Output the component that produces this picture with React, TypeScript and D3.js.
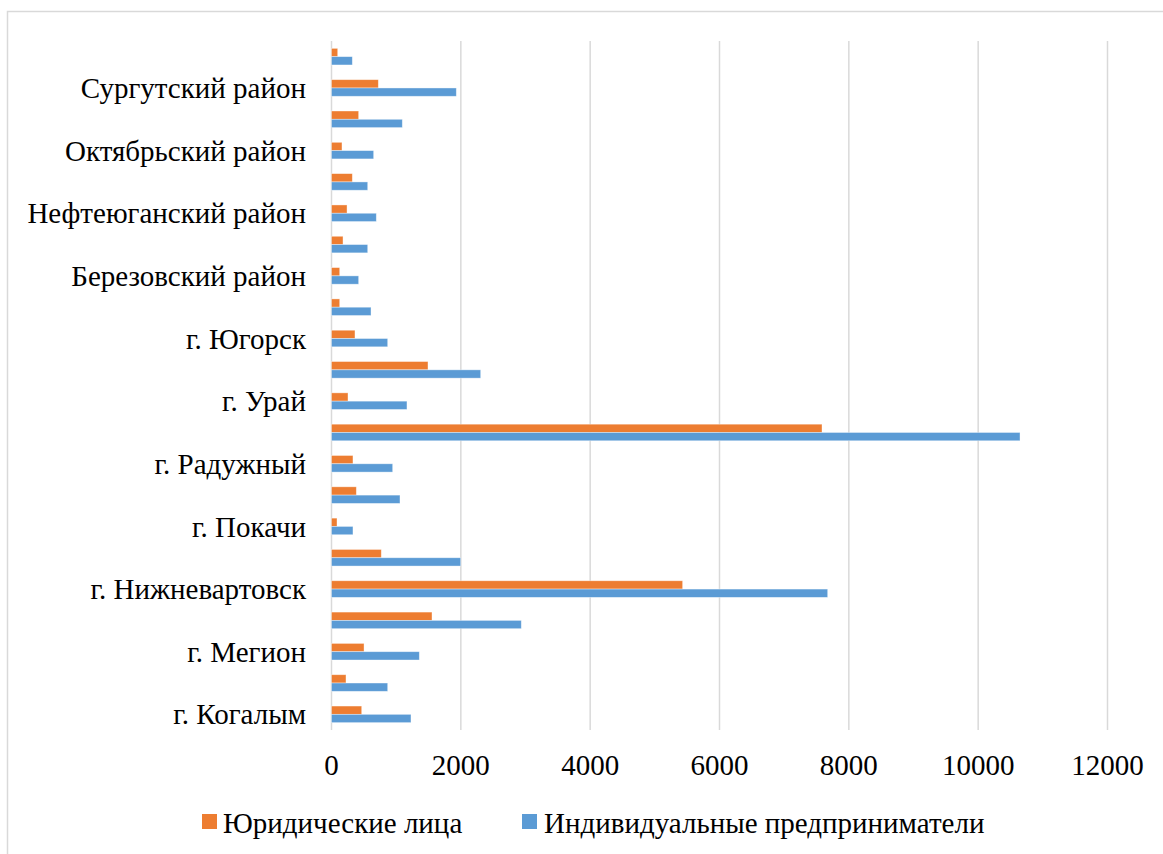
import * as d3 from 'd3'

const categories = [
  'г. Когалым',
  'г. Лангепас',
  'г. Мегион',
  'г. Нефтеюганск',
  'г. Нижневартовск',
  'г. Нягань',
  'г. Покачи',
  'г. Пыть-Ях',
  'г. Радужный',
  'г. Сургут',
  'г. Урай',
  'г. Ханты-Мансийск',
  'г. Югорск',
  'Белоярский район',
  'Березовский район',
  'Кондинский район',
  'Нефтеюганский район',
  'Нижневартовский район',
  'Октябрьский район',
  'Советский район',
  'Сургутский район',
  'Ханты-Мансийский район',
]

const legalEntities = [
  467, 224, 503, 1554, 5430, 770, 85, 384, 332, 7585, 255, 1492, 363, 127, 127, 178, 240, 322, 162,
  420, 724, 96,
]

const entrepreneurs = [
  1229, 869, 1358, 2935, 7673, 1998, 332, 1059, 946, 10647, 1167, 2307, 869, 611, 420, 560, 693,
  560, 652, 1095, 1930, 322,
]

const seriesNames = ['Юридические лица', 'Индивидуальные предприниматели']
const xTicks = [0, 2000, 4000, 6000, 8000, 10000, 12000]

const colors = ['#ED7D31', '#5B9BD5']
const textStyle = {
  fontFamily: "'Times New Roman', Times, Tinos, 'Liberation Serif', 'DejaVu Serif', 'Noto Serif', serif",
  fontSize: '29px',
}

const App = () => {
  const width = 1163
  const height = 854
  const left = 331.5
  const right = 1107.5
  const top = 41
  const bottom = 730

  const x = d3.scaleLinear().domain([0, 12000]).range([left, right])
  const y = d3.scaleBand<string>().domain(categories).range([bottom, top])
  const sub = d3
    .scaleBand<string>()
    .domain(['ul', 'ip'])
    .range([0, y.bandwidth()])
    .paddingInner(0)
    .paddingOuter(0.887)

  const rows = categories.map((c, i) => ({ c, ul: legalEntities[i], ip: entrepreneurs[i] }))

  return (
    <svg
      width={width}
      height={height}
      style={{ position: 'absolute', left: 0, top: 0, background: '#fff' }}
    >
      <rect x={7.5} y={11.5} width={1200} height={900} fill="#fff" stroke="#d9d9d9" strokeWidth={1.5} />

      {xTicks.map((t) => (
        <line key={t} x1={x(t)} x2={x(t)} y1={top} y2={bottom} stroke="#d9d9d9" strokeWidth={1.5} />
      ))}

      {rows.map((r) => (
        <g key={r.c}>
          <rect
            x={x(0)}
            y={(y(r.c) as number) + (sub('ul') as number)}
            width={x(r.ul) - x(0)}
            height={sub.bandwidth()}
            fill={colors[0]}
            stroke="#fff"
            strokeOpacity={0.5}
            strokeWidth={0.75}
          />
          <rect
            x={x(0)}
            y={(y(r.c) as number) + (sub('ip') as number)}
            width={x(r.ip) - x(0)}
            height={sub.bandwidth()}
            fill={colors[1]}
            stroke="#fff"
            strokeOpacity={0.5}
            strokeWidth={0.75}
          />
        </g>
      ))}

      {categories.map((c, i) =>
        i % 2 === 0 ? (
          <text
            key={c}
            x={306}
            y={(y(c) as number) + y.bandwidth() / 2}
            dy="0.35em"
            textAnchor="end"
            style={textStyle}
            fill="#000"
          >
            {c}
          </text>
        ) : null
      )}

      {xTicks.map((t) => (
        <text key={t} x={x(t)} y={775} textAnchor="middle" style={textStyle} fill="#000">
          {t}
        </text>
      ))}

      <g>
        <rect x={202} y={814} width={15} height={15} fill={colors[0]} />
        <text x={223} y={833} style={textStyle} fill="#000">
          {seriesNames[0]}
        </text>
        <rect x={522} y={814} width={15} height={15} fill={colors[1]} />
        <text x={544} y={833} style={textStyle} fill="#000">
          {seriesNames[1]}
        </text>
      </g>
    </svg>
  )
}

export default App
